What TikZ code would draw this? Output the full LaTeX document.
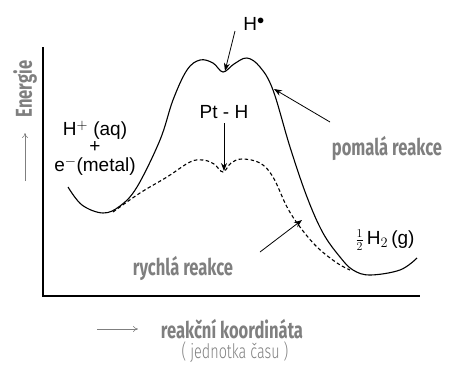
\documentclass[tikz,border=0pt]{standalone}
\usepackage{fontspec}
\setmainfont{Liberation Sans}
\newfontfamily\labfont[FakeStretch=0.72]{Fira Sans Bold}
\newfontfamily\lightfont[FakeStretch=0.72]{Fira Sans Light}
\usetikzlibrary{arrows.meta}
\definecolor{labgray}{HTML}{7F7F7F}
\tikzset{
  curve/.style={line width=1.1pt, black},
  dashcurve/.style={line width=1.1pt, black, dash pattern=on 3.5pt off 2.5pt},
  ptr/.style={line width=0.8pt, -{Stealth[length=8pt,width=6pt]}},
  chem/.style={font=\fontsize{19}{21}\selectfont, inner sep=0pt},
  lab/.style={font=\fontsize{23}{25}\labfont, text=labgray, inner sep=0pt},
  axis/.style={line width=1.4pt, black},
  grayarrow/.style={line width=0.6pt, labgray, -{To[length=5pt,width=6pt]}}
}
\begin{document}
\begin{tikzpicture}[x=1pt,y=-1pt]
\useasboundingbox (0,0) rectangle (456,365);
% axes
\coordinate (ytop) at (43,47);
\coordinate (orig) at (43,296);
\coordinate (xend) at (420,296);
\draw[axis] (ytop) -- (orig) -- (xend);
% solid curve
\draw[curve] plot[smooth, tension=0.6] coordinates {(68,187) (82,205) (103,213) (120,206) (137,187) (160,140) (173,100) (187,70) (200,60) (213,63) (223,72) (234,64) (247,58) (260,67) (273,90) (290,147) (307,197) (323,233) (340,257) (353,270) (370,275) (400,270) (417,258)};
% dashed curve
\draw[dashcurve] plot[smooth, tension=0.6] coordinates {(113,212) (140,193) (167,177) (190,162) (203,160) (214,164) (223,172) (231,163) (242,159) (260,163) (273,177) (287,207) (300,227) (317,247) (337,263) (350,270)};
% labels
\node[chem] (haq) at (95,130) {H$^{+}$ (aq)};
\node[chem] (plus) at (95,147) {+};
\node[chem] (emet) at (95,166) {e$^{-}$(metal)};
\node[chem] (hdot) at (254,24) {H$^{\bullet}$};
\node[chem] (pth) at (224,112) {Pt - H};
\node[chem] (half) at (385,240) {{\fontsize{17}{18}\selectfont$\frac{1}{2}$}\,H$_2$\,(g)};
\node[lab] (pomala) at (387,148) {pomalá reakce};
\node[lab] (rychla) at (183,268) {rychlá reakce};
\node[lab, rotate=90] (energie) at (25,89) {Energie};
\node[lab] (koord) at (232,329) {reakční koordináta};
\node[font=\fontsize{20}{22}\lightfont, text=labgray, inner sep=0pt] (jedn) at (235,352) {( jednotka času )};
% pointers
\coordinate (hdtail) at (235,31);
\coordinate (hdtip) at (225,71);
\draw[ptr] (hdtail) -- (hdtip);
\coordinate (pttail) at (224,123);
\coordinate (pttip) at (224,171);
\draw[ptr] (pttail) -- (pttip);
\coordinate (potail) at (330,122);
\coordinate (potip) at (274,89);
\draw[ptr] (potail) -- (potip);
\coordinate (rytail) at (260,252);
\coordinate (rytip) at (302,220);
\draw[ptr] (rytail) -- (rytip);
% gray axis arrows
\coordinate (ea1) at (25,181);
\coordinate (ea2) at (25,133);
\draw[grayarrow] (ea1) -- (ea2);
\coordinate (ka1) at (97,329);
\coordinate (ka2) at (138,329);
\draw[grayarrow] (ka1) -- (ka2);
\end{tikzpicture}
\end{document}
